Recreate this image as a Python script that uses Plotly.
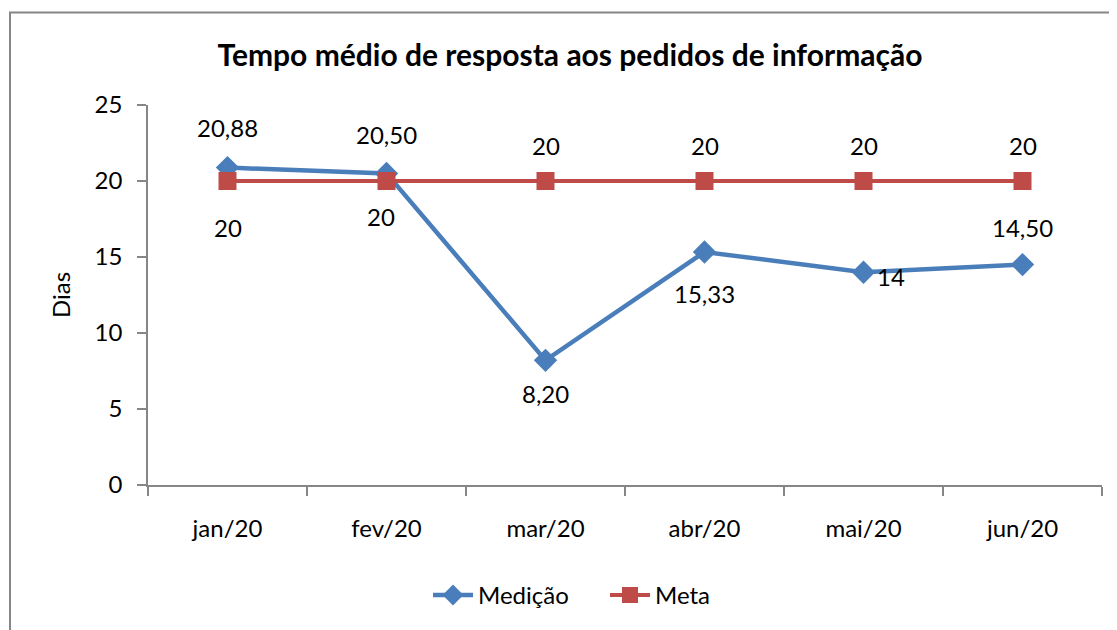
import plotly.graph_objects as go

categorias = ["jan/20", "fev/20", "mar/20", "abr/20", "mai/20", "jun/20"]
medicao = [20.88, 20.50, 8.20, 15.33, 14, 14.50]
meta = [20, 20, 20, 20, 20, 20]
rotulos_medicao = ["20,88", "20,50", "8,20", "15,33", "14", "14,50"]
rotulos_meta = ["20", "20", "20", "20", "20", "20"]

# label placement (style): (xshift, yshift)
pos_medicao = [(0, 40), (0, 39), (0, -33), (0, -42), (27, -4), (0, 37)]
pos_meta = [(0, -46), (-6, -35), (0, 36), (0, 36), (0, 36), (0, 36)]

FONT = "Lato, Carlito, Calibri, sans-serif"
BLUE = "#4A7EBB"
RED = "#BE4B48"
GRAY = "#868686"

# page body has an 8px margin; figure sized to fill the rest of the window
W, H = 1109, 622
L, R, T, B = 140, 15, 97, 143
PW, PH = W - L - R, H - T - B

fig = go.Figure()
fig.add_trace(go.Scatter(
    x=categorias, y=medicao, name="Medição", mode="lines+markers",
    line=dict(color=BLUE, width=4.5),
    marker=dict(symbol="diamond", size=18, color=BLUE),
))
fig.add_trace(go.Scatter(
    x=categorias, y=meta, name="Meta", mode="lines+markers",
    line=dict(color=RED, width=4),
    marker=dict(symbol="square", size=18, color=RED),
))

annotations = []
for cat, v, t, (dx, dy) in zip(categorias, medicao, rotulos_medicao, pos_medicao):
    annotations.append(dict(x=cat, y=v, xref="x", yref="y", text=t, showarrow=False,
                            xshift=dx, yshift=dy, font=dict(family=FONT, size=24, color="#000000")))
for cat, v, t, (dx, dy) in zip(categorias, meta, rotulos_meta, pos_meta):
    annotations.append(dict(x=cat, y=v, xref="x", yref="y", text=t, showarrow=False,
                            xshift=dx, yshift=dy, font=dict(family=FONT, size=24, color="#000000")))

fig.update_layout(
    width=W, height=H,
    margin=dict(l=L, r=R, t=T, b=B),
    paper_bgcolor="white", plot_bgcolor="white",
    font=dict(family=FONT, size=24, color="#000000"),
    title=dict(text="<b>Tempo médio de resposta aos pedidos de informação</b>",
               x=562 / W, xanchor="center", y=1 - 47 / H, yanchor="middle",
               font=dict(family=FONT, size=30, color="#000000")),
    showlegend=True,
    legend=dict(orientation="h", x=(597 - L) / PW, xanchor="center",
                y=(H - B - 590) / PH, yanchor="middle",
                font=dict(family=FONT, size=24, color="#000000"),
                itemwidth=40, entrywidth=122,
                bgcolor="rgba(0,0,0,0)"),
    annotations=annotations,
    shapes=[dict(type="rect", xref="paper", yref="paper",
                 x0=(2 - L) / PW, x1=1.2, y0=-0.6, y1=(H - B - 4) / PH,
                 line=dict(color=GRAY, width=2), fillcolor="rgba(0,0,0,0)", layer="below")],
)
fig.update_xaxes(
    type="category", range=[-0.5, 5.5], tickson="boundaries",
    ticks="outside", ticklen=9, tickcolor=GRAY, tickwidth=1.5,
    showline=True, linecolor=GRAY, linewidth=1.5,
    showgrid=False, zeroline=False, ticklabelstandoff=21,
    tickfont=dict(family=FONT, size=24, color="#000000"),
)
fig.update_yaxes(
    range=[0, 25], tickvals=[0, 5, 10, 15, 20, 25],
    ticks="outside", ticklen=9, tickcolor=GRAY, tickwidth=1.5,
    showline=True, linecolor=GRAY, linewidth=1.5,
    showgrid=False, zeroline=False, ticklabelstandoff=10,
    tickfont=dict(family=FONT, size=24, color="#000000"),
    title=dict(text="Dias", font=dict(family=FONT, size=24, color="#000000"), standoff=17),
)

fig.write_html("out.html")
